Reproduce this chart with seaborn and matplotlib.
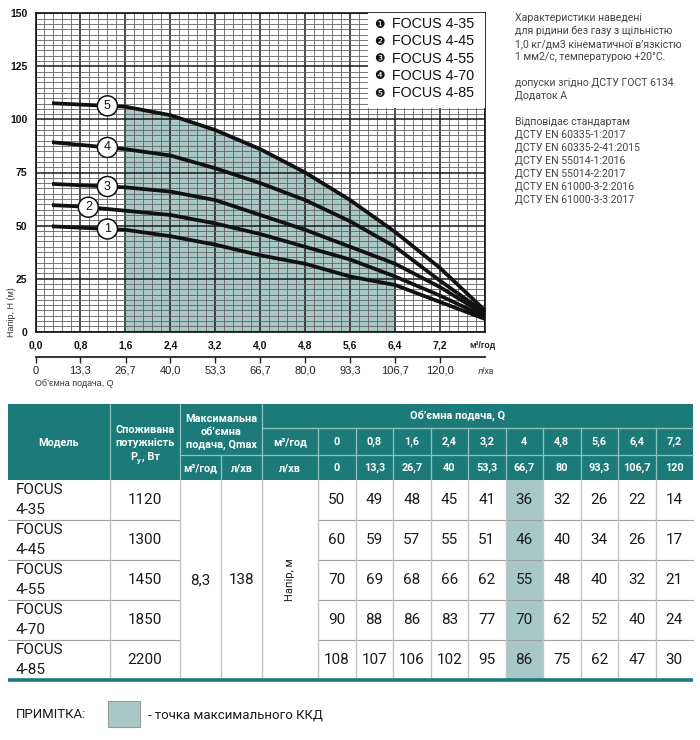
import numpy as np
import pandas as pd
import matplotlib
matplotlib.use("Agg")
import matplotlib.pyplot as plt
import seaborn as sns
from matplotlib.patches import Rectangle

# ---------------- data ----------------
models = ["FOCUS 4-35", "FOCUS 4-45", "FOCUS 4-55", "FOCUS 4-70", "FOCUS 4-85"]
power_w = [1120, 1300, 1450, 1850, 2200]
qmax_m3h = "8,3"
qmax_lmin = "138"
q_m3h = [0, 0.8, 1.6, 2.4, 3.2, 4.0, 4.8, 5.6, 6.4, 7.2]
q_lmin = [0, 13.3, 26.7, 40, 53.3, 66.7, 80, 93.3, 106.7, 120]
h_4_35 = [50, 49, 48, 45, 41, 36, 32, 26, 22, 14]
h_4_45 = [60, 59, 57, 55, 51, 46, 40, 34, 26, 17]
h_4_55 = [70, 69, 68, 66, 62, 55, 48, 40, 32, 21]
h_4_70 = [90, 88, 86, 83, 77, 70, 62, 52, 40, 24]
h_4_85 = [108, 107, 106, 102, 95, 86, 75, 62, 47, 30]
q_end = 8.0                      # shut-off end of the curves
h_end = [6, 7, 8, 9, 10]
bep_q = 4.0                      # highlighted column (max efficiency)
eff_q = [1.6, 6.4]               # shaded efficiency range on chart

heads = [h_4_35, h_4_45, h_4_55, h_4_70, h_4_85]

notes = [
    "Характеристики наведені",
    "для рідини без газу з щільністю",
    "1,0 кг/дм3 кінематичної в’язкістю",
    "1 мм2/с, температурою +20°C.",
    "",
    "допуски згідно ДСТУ ГОСТ 6134",
    "Додаток А",
    "",
    "Відповідає стандартам",
    "ДСТУ EN 60335-1:2017",
    "ДСТУ EN 60335-2-41:2015",
    "ДСТУ EN 55014-1:2016",
    "ДСТУ EN 55014-2:2017",
    "ДСТУ EN 61000-3-2:2016",
    "ДСТУ EN 61000-3-3:2017",
]

# ---------------- style ----------------
sns.set_style("white")
plt.rcParams["font.family"] = ["Liberation Sans", "DejaVu Sans"]

TEAL = "#1c7b79"
SHADE = "#a8c8c5"
W, H = 700, 740

fig = plt.figure(figsize=(7, 7.4), dpi=100)

# ---------------- chart ----------------
x0, y_top, y_bot, x1 = 35.5, 13.3, 331.7, 485.0
ax = fig.add_axes([x0 / W, 1 - y_bot / H, (x1 - x0) / W, (y_bot - y_top) / H])

rows = []
for m, h, he in zip(models, heads, h_end):
    for q, v in zip(q_m3h + [q_end], h + [he]):
        rows.append({"model": m, "Q": q, "H": v})
df = pd.DataFrame(rows)

qf = [q for q in q_m3h if eff_q[0] - 1e-9 <= q <= eff_q[1] + 1e-9]
hf = [h for q, h in zip(q_m3h, h_4_85) if eff_q[0] - 1e-9 <= q <= eff_q[1] + 1e-9]
ax.fill_between(qf, 0, hf, color=SHADE, lw=0, zorder=1)

sns.lineplot(data=df, x="Q", y="H", units="model", estimator=None,
             color="#111111", lw=2.7, ax=ax, legend=False, zorder=3)
clip = Rectangle((0.3, -50), 20, 400, transform=ax.transData)
for ln in ax.lines:
    ln.set_clip_path(clip)
    ln.set_solid_joinstyle("round")
    ln.set_solid_capstyle("butt")

ax.set_xlim(0, q_end)
ax.set_ylim(0, 150)
ax.set_xlabel("")
ax.set_ylabel("")
ax.set_xticks(q_m3h + [q_end])
ax.set_xticklabels([f"{q:.1f}".replace(".", ",") for q in q_m3h] + [""])
ax.set_xticks(np.arange(0, q_end + 1e-6, 0.16), minor=True)
ax.set_yticks(np.arange(0, 151, 25))
ax.set_yticks(np.arange(0, 150.01, 2.5), minor=True)
ax.set_axisbelow("line")
ax.grid(which="minor", color="#626262", lw=0.6)
ax.grid(which="major", color="#1a1a1a", lw=1.1)
ax.tick_params(which="major", direction="out", length=4, width=1, pad=2,
               labelsize=7.5, colors="#111")
ax.tick_params(which="minor", length=0)
for t in ax.get_xticklabels() + ax.get_yticklabels():
    t.set_fontweight("bold")
for s in ax.spines.values():
    s.set_color("#111")
    s.set_linewidth(1.2)
    s.set_visible(True)

# circled curve numbers
lab_x = [1.28, 0.94, 1.28, 1.28, 1.28]
for i, (h, lx) in enumerate(zip(heads, lab_x)):
    ly = np.interp(lx, q_m3h, h)
    ax.text(lx, ly, str(i + 1), ha="center", va="center", fontsize=9,
            zorder=6, color="#111",
            bbox=dict(boxstyle="circle,pad=0.32", fc="white", ec="#111", lw=1.1))

# legend box
ax.add_patch(Rectangle((0.74, 0.7026), 0.26, 0.2974, transform=ax.transAxes,
                       fc="white", ec="none", zorder=4))

# secondary l/min axis
sec = ax.secondary_xaxis(-25 / (y_bot - y_top),
                         functions=(lambda q: q * 1000 / 60, lambda l: l * 60 / 1000))
sec.set_xticks(q_lmin)
sec.set_xticklabels(["0" if v == 0 else f"{v:.1f}".replace(".", ",") for v in q_lmin])
sec.tick_params(direction="out", length=4, width=1, pad=2.5, labelsize=8, colors="#222")
sec.spines["bottom"].set_linewidth(1.3)
sec.spines["bottom"].set_color("#222")

# ---------------- overlay (pixel coords) ----------------
ov = fig.add_axes([0, 0, 1, 1], zorder=10)
ov.set_xlim(0, W)
ov.set_ylim(H, 0)
ov.axis("off")
ov.patch.set_alpha(0)

# legend entries
marks = ["❶", "❷", "❸", "❹", "❺"]
for i, (mk, m) in enumerate(zip(marks, models)):
    y = 24 + i * 17.3
    ov.text(379, y, mk, fontsize=8.5, family="DejaVu Sans", ha="center", va="center", color="#111")
    ov.text(392, y, m, fontsize=10.3, ha="left", va="center", color="#111")

# axis texts
ov.text(482, 346, "м³/год", fontsize=6.3, fontweight="bold", ha="center", va="center", color="#222")
ov.text(486, 371, "л/хв", fontsize=6.3, ha="center", va="center", color="#333")
ov.text(35, 383, "Об’ємна подача, Q", fontsize=6.5, ha="left", va="center", color="#333")
ov.text(12, 312, "Напір, H (м)", fontsize=6.5, ha="center", va="center", rotation=90, color="#333")

# notes
for i, line in enumerate(notes):
    if line:
        ov.text(515, 18 + i * 13.0, line, fontsize=7.6, family="Roboto",
                ha="left", va="center", color="#444")

# ---------------- table ----------------
TF = "Roboto"
tx0, tx1 = 8, 693
r0, r1, r2, r3 = 404, 428, 455, 480
row_h = 40
c_model, c_pow, c_qm, c_ql, c_unit, c_q0 = 8, 110, 180, 221, 262, 318
qw = (tx1 - c_q0) / len(q_m3h)
qcols = [c_q0 + i * qw for i in range(len(q_m3h) + 1)]
body_bot = r3 + row_h * len(models)

ov.add_patch(Rectangle((tx0, r0), tx1 - tx0, r3 - r0, fc=TEAL, ec="none"))
hl = dict(color="#8fc3c0", lw=0.9)
# header lines
for x in [c_pow, c_qm, c_unit]:
    ov.plot([x, x], [r0, r3], **hl)
ov.plot([c_ql, c_ql], [r2, r3], **hl)
ov.plot([c_qm, c_unit], [r2, r2], **hl)
ov.plot([c_unit, tx1], [r1, r1], **hl)
ov.plot([c_unit, tx1], [r2, r2], **hl)
for x in qcols[:-1]:
    ov.plot([x, x], [r1, r3], **hl)

hk = dict(color="white", fontweight="bold", fontsize=7.8, family=TF, ha="center", va="center")
cp = (c_pow + c_qm) / 2
ov.text(c_model + (c_pow - c_model) / 2, 442, "Модель", **hk)
ov.text(cp, 430, "Споживана", **hk)
ov.text(cp, 443.5, "потужність", **hk)
ov.text(cp - 8, 457, "P", color="white", fontweight="bold", fontsize=7.8, family=TF,
        ha="right", va="center")
ov.text(cp - 7.6, 460.5, "у", color="white", fontweight="bold", fontsize=5.5, family=TF,
        ha="left", va="center")
ov.text(cp - 3, 457, ", Вт", color="white", fontweight="bold", fontsize=7.8, family=TF,
        ha="left", va="center")
ov.text((c_qm + c_unit) / 2, 419, "Максимальна", **hk)
ov.text((c_qm + c_unit) / 2, 432, "об’ємна", **hk)
ov.text((c_qm + c_unit) / 2, 445, "подача, Qmax", **hk)
ov.text((c_qm + c_ql) / 2, 468, "м³/год", **hk)
ov.text((c_ql + c_unit) / 2, 468, "л/хв", **hk)
ov.text(458, 416, "Об’ємна подача, Q", **hk)
ov.text((c_unit + c_q0) / 2, 442, "м³/год", **hk)
ov.text((c_unit + c_q0) / 2, 468, "л/хв", **hk)
for i, (q, l) in enumerate(zip(q_m3h, q_lmin)):
    cx = (qcols[i] + qcols[i + 1]) / 2
    ov.text(cx, 442, f"{q:g}".replace(".", ","), **hk)
    ov.text(cx, 468, f"{l:g}".replace(".", ","), **hk)

# highlight column
bi = q_m3h.index(bep_q)
ov.add_patch(Rectangle((qcols[bi], r3), qw, body_bot - r3, fc=SHADE, ec="none"))

# body lines
bl = dict(color="#a0a0a0", lw=0.8)
for j in range(1, len(models)):
    y = r3 + j * row_h
    ov.plot([tx0, c_qm], [y, y], **bl)
    ov.plot([c_q0, tx1], [y, y], **bl)
for x in [c_pow, c_qm, c_ql, c_unit] + qcols[:-1]:
    ov.plot([x, x], [r3, body_bot], color="#c4c4c4", lw=1.0)
ov.plot([tx0, tx1], [body_bot, body_bot], color=TEAL, lw=2.6, solid_capstyle="butt")

bk = dict(color="#1a1a1a", fontsize=11, family=TF, va="center")
for j, (m, p, h) in enumerate(zip(models, power_w, heads)):
    yc = r3 + j * row_h + row_h / 2
    name, num = m.split(" ")
    ov.text(16, yc - 9.5, name, ha="left", **bk)
    ov.text(16, yc + 9.5, num, ha="left", **bk)
    ov.text(cp, yc, str(p), ha="center", **bk)
    for i, v in enumerate(h):
        ov.text((qcols[i] + qcols[i + 1]) / 2, yc, str(v), ha="center", **bk)
ym = (r3 + body_bot) / 2
ov.text((c_qm + c_ql) / 2, ym, qmax_m3h, ha="center", **bk)
ov.text((c_ql + c_unit) / 2, ym, qmax_lmin, ha="center", **bk)
ov.text((c_unit + c_q0) / 2, ym, "Напір, м", ha="center", va="center", rotation=90,
        fontsize=8, family=TF, color="#1a1a1a")

# note
ov.text(16, 715, "ПРИМІТКА:", fontsize=9.5, family=TF, ha="left", va="center", color="#1a1a1a")
ov.add_patch(Rectangle((108, 701), 32, 26, fc=SHADE, ec="#9a9a9a", lw=0.8))
ov.text(148, 715, "- точка максимального ККД", fontsize=9.5, family=TF, ha="left",
        va="center", color="#1a1a1a")

fig.savefig("out.png", dpi=100)
